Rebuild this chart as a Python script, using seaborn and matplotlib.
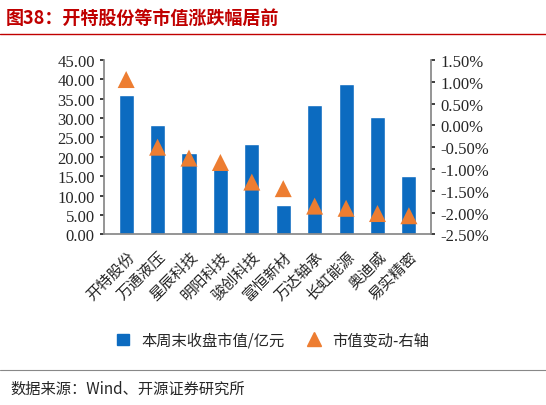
import numpy as np
import pandas as pd
import seaborn as sns
import matplotlib.pyplot as plt
from matplotlib.ticker import FuncFormatter
from matplotlib.patches import Patch
from matplotlib.lines import Line2D

categories = ['开特股份', '万通液压', '星辰科技', '明阳科技', '骏创科技',
              '富恒新材', '万达轴承', '长虹能源', '奥迪威', '易实精密']
market_cap = [36.0, 28.3, 21.0, 16.8, 23.3, 7.6, 33.5, 38.8, 30.4, 15.0]
cap_change = [1.05, -0.50, -0.75, -0.85, -1.30, -1.45, -1.85, -1.90, -2.02, -2.07]

sns.set_theme(style='white')
plt.rcParams['font.family'] = ['Times New Roman', 'Liberation Serif', 'Noto Sans CJK SC', 'DejaVu Sans']

df = pd.DataFrame({'cat': categories, 'cap': market_cap, 'chg': cap_change})

fig = plt.figure(figsize=(5.46, 4.06), dpi=100)
ax = fig.add_axes([0.19, 0.42, 0.6, 0.43])
sns.barplot(data=df, x='cat', y='cap', color='#0c6bc0', width=0.48, ax=ax, saturation=1)
ax.set_ylim(0, 45)
ax.set_yticks(np.arange(0, 46, 5))
ax.yaxis.set_major_formatter(FuncFormatter(lambda v, p: f'{v:.2f}'))
ax.set_xlabel('')
ax.set_ylabel('')
ax.tick_params(axis='y', labelsize=12, length=3, left=True)
ax.set_xticks(range(len(categories)))
ax.set_xticklabels(categories, rotation=45, ha='right', rotation_mode='anchor',
                   fontsize=11, family='Noto Sans CJK SC')
for s in ['top', 'right']:
    ax.spines[s].set_visible(False)
for s in ['left', 'bottom']:
    ax.spines[s].set_color('#888888')

ax2 = ax.twinx()
sns.scatterplot(x=np.arange(len(categories)), y=df['chg'], marker='^', s=150,
                color='#ed7d31', edgecolor='none', ax=ax2)
ax2.set_ylim(-2.5, 1.5)
ax2.set_yticks(np.arange(-2.5, 1.51, 0.5))
ax2.yaxis.set_major_formatter(FuncFormatter(lambda v, p: f'{v:.2f}%'))
ax2.tick_params(axis='y', labelsize=12, length=3, right=True)
ax2.set_ylabel('')
for s in ['top', 'left', 'bottom']:
    ax2.spines[s].set_visible(False)
ax2.spines['right'].set_color('#888888')

handles = [Patch(color='#0c6bc0', label='本周末收盘市值/亿元'),
           Line2D([], [], marker='^', linestyle='', color='#ed7d31', markersize=10, label='市值变动-右轴')]
fig.legend(handles=handles, loc='center', bbox_to_anchor=(0.5, 0.16), ncol=2, frameon=False,
           prop={'family': 'Noto Sans CJK SC', 'size': 11}, handlelength=0.8, columnspacing=1.5)

fig.text(0.01, 0.955, '图38：开特股份等市值涨跌幅居前', color='#c00000', fontsize=13,
         fontweight='bold', family='Noto Sans CJK SC', va='center')
fig.add_artist(Line2D([0, 1], [0.915, 0.915], color='#c00000', lw=1))
fig.add_artist(Line2D([0, 1], [0.085, 0.085], color='#888888', lw=0.8))
fig.text(0.02, 0.04, '数据来源：Wind、开源证券研究所', fontsize=11, family='Noto Sans CJK SC', va='center')

fig.savefig('out.png', dpi=100)
